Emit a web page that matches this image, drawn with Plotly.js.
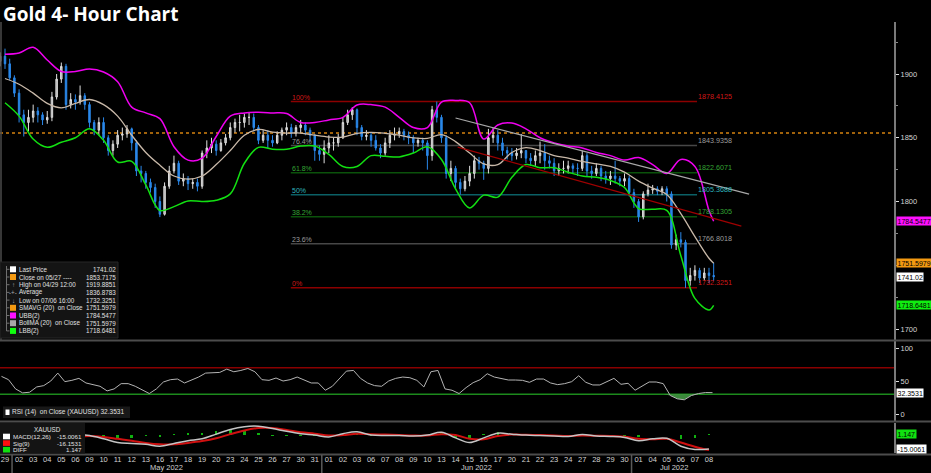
<!DOCTYPE html>
<html><head><meta charset="utf-8">
<script src="https://cdn.plot.ly/plotly-3.0.1.min.js"></script>
<style>html,body{margin:0;padding:0;background:#000;overflow:hidden}#chart{width:931px;height:473px}</style>
</head><body><div id="chart"></div>
<script>
// ---------------- DATA ----------------
const dayLabels = ['29','02','03','04','05','06','09','10','11','12','13','16','17','18','19','20','23','24','25','26','27','30','31',
  '01','02','03','06','07','08','09','10','13','14','15','16','17','20','21','22','23','24','27','28','29','30',
  '01','04','05','06','07','08'];
const monthNames = ['May 2022','Jun 2022','Jul 2022'];
const monthFirstDay = [1, 23, 45];
const monthLastDay = [22, 44, 50];

// 4-hour bars (3 per trading day shown)
const openP = [
 1910,1914,1908, 1897,1885,1868, 1862,1866,1871, 1868,1864,1866, 1882,1896,1906, 1876,1880,1878,
 1883,1876,1862, 1856,1862,1850, 1840,1845,1852, 1853,1857,1846, 1824,1822,1815, 1811,1800,1790,
 1812,1824,1830, 1816,1818,1814, 1815,1812,1838, 1842,1845,1840, 1846,1850,1858, 1862,1862,1866,
 1866,1858,1848, 1852,1848,1846, 1852,1856,1858, 1853.7,1858,1860, 1856,1852,1840, 1837,1842,1846,
 1846,1850,1862, 1868,1872,1858, 1851,1852,1848, 1842,1838,1846, 1852,1853,1855, 1852,1850,1846,
 1848,1846,1836, 1872,1866,1850, 1822,1826,1815, 1810,1816,1822, 1832,1830,1826, 1850,1852,1846,
 1840,1838,1836, 1838,1840,1834, 1832,1836,1838, 1832,1830,1824, 1826,1826,1828, 1826,1826,1836,
 1824,1822,1826, 1820,1818,1820, 1818,1816,1818, 1807,1800,1788, 1806,1809,1810, 1808,1810,1806,
 1766,1770,1768, 1738,1742,1746, 1740,1744,1742];
const highP = [
 1917,1919.9,1912, 1899,1888,1872, 1872,1876,1874, 1870,1871,1886, 1900,1909,1908, 1885,1884,1891,
 1885,1878,1864, 1866,1866,1852, 1848,1856,1858, 1860,1858,1848, 1828,1824,1818, 1814,1804,1815,
 1828,1836,1832, 1822,1820,1818, 1818,1840,1848, 1850,1848,1849, 1853,1862,1865, 1868,1869,1870,
 1869,1860,1856, 1856,1852,1855, 1858,1862,1861, 1860,1864,1862, 1858,1853,1844, 1848,1852,1850,
 1853,1866,1872, 1874,1873,1860, 1856,1854,1852, 1845,1850,1856, 1858,1858,1857, 1855,1852,1850,
 1850,1848,1875, 1878.4,1868,1852, 1832,1828,1818, 1820,1828,1836, 1835,1832,1857, 1858,1856,1850,
 1843,1842,1842, 1853,1840,1838, 1840,1847,1845, 1836,1834,1830, 1832,1832,1830, 1830,1840,1838,
 1828,1830,1828, 1824,1824,1832, 1820,1822,1820, 1810,1802,1808, 1814,1813,1812, 1812,1812,1808,
 1774,1776,1770, 1748,1750,1748, 1748,1748,1752];
const lowP = [
 1906,1904,1895, 1882,1862,1851, 1855,1862,1862, 1860,1861,1863, 1880,1893,1872, 1873,1872,1876,
 1872,1858,1852, 1852,1846,1836, 1836,1842,1848, 1850,1840,1820, 1815,1810,1807, 1795,1787.8,1789,
 1810,1822,1813, 1812,1809,1810, 1808,1810,1834, 1838,1836,1839, 1844,1848,1854, 1855,1858,1860,
 1855,1845,1846, 1842,1843,1845, 1848,1852,1850, 1851,1854,1852, 1847,1832,1832, 1830,1838,1840,
 1843,1849,1860, 1864,1852,1848, 1848,1843,1840, 1834,1836,1842, 1848,1850,1848, 1845,1838,1843,
 1840,1825,1832, 1862,1846,1818, 1816,1810,1805.4, 1808,1812,1818, 1825,1817,1822, 1846,1840,1836,
 1833,1832,1833, 1834,1830,1828, 1828,1830,1825, 1826,1820,1820, 1822,1822,1822, 1820,1824,1820,
 1818,1820,1816, 1814,1813,1814, 1812,1812,1804, 1795,1784,1786, 1804,1806,1805, 1805,1800,1763,
 1762,1764,1732.3, 1734,1738,1736, 1738,1736,1738];
const closeP = [
 1914,1908,1897, 1885,1868,1862, 1866,1871,1868, 1864,1866,1882, 1896,1906,1876, 1880,1878,1883,
 1876,1862,1856, 1862,1850,1840, 1845,1852,1853, 1857,1846,1824, 1822,1815,1811, 1800,1790,1812,
 1824,1830,1816, 1818,1814,1815, 1812,1838,1842, 1845,1840,1846, 1850,1858,1862, 1862,1866,1866,
 1858,1848,1852, 1848,1846,1852, 1856,1858,1853.7, 1858,1860,1856, 1852,1840,1837, 1842,1846,1846,
 1850,1862,1868, 1872,1858,1851, 1852,1848,1842, 1838,1846,1852, 1853,1855,1852, 1850,1846,1848,
 1846,1836,1872, 1866,1850,1822, 1826,1815,1810, 1816,1822,1832, 1830,1826,1850, 1852,1846,1840,
 1838,1836,1838, 1840,1834,1832, 1836,1838,1832, 1830,1824,1826, 1826,1828,1826, 1826,1836,1824,
 1822,1826,1820, 1818,1820,1818, 1816,1818,1807, 1800,1788,1806, 1809,1810,1808, 1810,1806,1766,
 1770,1768,1738, 1742,1746,1740, 1744,1742,1741.02];

// Bollinger bands, one value per day + the value at the last bar
const ubb = [1915.5,1916.5,1921,1911,1902,1902,1904,1901.6,1894,1874,
 1869.5,1865,1843,1832.5,1834,1851,1867,1869.5,1870,1869.5,
 1869,1862,1862,1864,1866,1875.7,1876,1874,1866,1858,
 1858,1878,1879.3,1877.5,1849,1860,1861.5,1857,1850,1846,
 1843.5,1842,1838.5,1836,1832.5,1834.5,1829,1822,1833,1827.5,
 1793,1784.5477];
const bollMA = [1896.5,1892,1885,1877,1873.5,1877,1880,1876,1867,1852,
 1838.5,1828.5,1820,1817.6,1820,1829,1840,1852,1856.5,1854.5,
 1853.7,1853.7,1852,1850.6,1850.5,1853.5,1854.3,1853.5,1852,1850,
 1849.5,1852.5,1847,1838,1829.5,1829,1838.5,1842.3,1840,1836,
 1834,1831.5,1829.5,1827.5,1823,1816,1810.5,1805.5,1790.5,1772.5,
 1755.5,1751.5979];
const lbb = [1877.5,1867,1849,1842.5,1846.5,1850,1857,1848,1831,1831.5,
 1813,1793,1796,1800.5,1800,1801,1806,1830,1842.5,1841,
 1841,1843.5,1843.5,1837,1827.5,1827.5,1836,1835.5,1835,1838,
 1843,1833,1810,1795,1805,1803.5,1819,1829,1826.5,1826.5,
 1823,1820,1819,1816.5,1811,1794.5,1794,1793,1757.5,1724,
 1715,1718.6481];

// RSI (14), two readings per day
const rsi = [57,52,38,32,33,41,43,50,62,49, 51,54,47,44,42,35,38,46,46,42,
 36,31,38,48.5,52,53,47,51,56,62, 62,63,68,64,66,69,64,52,51,54.5,
 50,52,56,51,47,47,36,42,54,65, 66,54,47,43,42,50,54,56,55,51,
 41,64,66,38,36,31,40,47.5,52,61, 56,54,51.5,51.5,51,48,53,53,47,44.5,
 46,49,58,48,44,44,49,54,45,46.5, 36,42,48.5,48.5,46,28,23,21.5,28,31,
 32.5,32.3531];
const rsiLevels = [70, 30];

// MACD (12,26), signal (9), diff — one reading per day
const macd = [-5,-7,-6,-3,0,1,-0.5,-4,-8,-9, -10,-12,-9,-6,-4,1,6,9,9.5,7,
 4,1.5,0,-2,1.5,3.5,0,-0.5,-0.5,-1, 0,3,-3,-8,-3,2,1,0,-0.5,-1,
 -1.5,0.5,-1,-1.5,-2.5,-6,-4,-3.5,-12,-15.5, -15.0061];
const sig = [-6,-6.5,-6.5,-5.5,-3.5,-2,-1,-2,-4,-6, -8.5,-10,-10,-8.5,-6.5,-3.5,1,5,7.5,7.5,
 5.5,3,1.5,-0.5,0,1.5,1,0.5,0,-0.5, -0.5,1,0,-4,-4.5,-1,0.5,0.3,0,-0.5,
 -1,-0.5,-0.7,-1,-1.8,-4,-4.5,-4,-8,-12.5, -16.1531];
const diffV = [1,-0.5,0.5,2.5,3.5,3,0.5,-2,-4,-3, -1.5,-2,1,2.5,2.5,4.5,5,4,2,-0.5,
 -1.5,-1.5,-1.5,-1.5,1.5,2,-1,-1,-0.5,-0.5, 0.5,2,-3,-4,1.5,3,0.5,-0.3,-0.5,-0.5,
 -0.5,1,-0.3,-0.5,-0.7,-2,0.5,0.5,-4,-3, 1.147];

// Fibonacci retracement levels
const fibPct = ['100%','76.4%','61.8%','50%','38.2%','23.6%','0%'];
const fibVal = [1878.4125,1843.9358,1822.6071,1805.3688,1788.1305,1766.8018,1732.3251];
const fibLabel = ['1878.4125','1843.9358','1822.6071','1805.3688','1788.1305','1766.8018','1732.3251'];
const fibFromDay = 20.3, fibToDay = 49.15;

// Trend lines [startDay, endDay] / [startPrice, endPrice]
const trendDays = [[32.0, 52.85],[32.15, 52.3]];
const trendPrices = [[1865.5, 1805.8],[1842.7, 1780.7]];

const closeRef = 1853.7175;

// Legend
const legendLabels = ['Last Price','Close on 05/27 ----','High on 04/29 12:00','Average','Low on 07/06 16:00',
  'SMAVG (20)\u00a0\u00a0on Close','UBB(2)','BollMA (20)\u00a0\u00a0on Close','LBB(2)'];
const legendValues = ['1741.02','1853.7175','1919.8851','1836.8783','1732.3251','1751.5979','1784.5477','1751.5979','1718.6481'];
const lastPrice = 1741.02, smavgLast = 1751.5979, ubbLast = 1784.5477, lbbLast = 1718.6481;
const rsiLast = '32.3531';
const macdLabels = ['MACD(12,26)','Sig(9)','DIFF'];
const macdValues = ['-15.0061','-16.1531','1.147'];

// ---------------- STYLE / GEOMETRY ----------------
const W=931,H=473,MR=37,MT=22,MB=18;
const PW=W-MR, PH=H-MT-MB;
const fx = p => p/PW;
const fy = p => (H-MB-p)/PH;
const FONT = 'Liberation Sans, Arial, sans-serif';
const fibLineColor = ['#8c0000','#474747','#0b520b','#0b6066','#0b520b','#474747','#8c0000'];
const fibTextColor = ['#d01818','#9c9c9c','#34a534','#2fb5bd','#34a534','#9c9c9c','#d01818'];
const legendIcon = ['sq','sq','\u2191','-+-','\u2193','sq','sq','sq','sq'];
const legendColor = ['#ffffff','#f39a12','#aaaaaa','#aaaaaa','#aaaaaa','#f39a12','#ff10ff','#a8a8a8','#10ff10'];

const nDays = dayLabels.length;
const barX = closeP.map((_,i)=> Math.floor(i/3) + ((i%3)-1)/3);
const lastBarX = barX[barX.length-1];
const bandX = ubb.map((_,i)=> i < nDays ? i : lastBarX);
const rsiX = rsi.map((_,k)=> k/2 - 0.25);
const dayX = macd.map((_,i)=> i);

const traces = [
 {type:'candlestick', x:barX, open:openP, high:highP, low:lowP, close:closeP, xaxis:'x', yaxis:'y',
  increasing:{line:{color:'#dedede',width:1}, fillcolor:'#a8a8a8'},
  decreasing:{line:{color:'#2a88ea',width:1}, fillcolor:'#2a88ea'},
  whiskerwidth:0, hoverinfo:'skip'},
 {type:'scatter', mode:'lines', x:bandX, y:bollMA, line:{color:'#c9b9a9',width:1.3,shape:'spline'}, hoverinfo:'skip'},
 {type:'scatter', mode:'lines', x:bandX, y:ubb, line:{color:'#f000f0',width:1.5,shape:'spline'}, hoverinfo:'skip'},
 {type:'scatter', mode:'lines', x:bandX, y:lbb, line:{color:'#12e012',width:1.5,shape:'spline'}, hoverinfo:'skip'},
 // RSI oversold fill
 {type:'scatter', mode:'lines', x:rsiX, y:rsi.map(()=>rsiLevels[1]), yaxis:'y2', line:{width:0}, hoverinfo:'skip'},
 {type:'scatter', mode:'lines', x:rsiX, y:rsi.map(v=>Math.min(v,rsiLevels[1])), yaxis:'y2', line:{width:0},
  fill:'tonexty', fillcolor:'rgba(70,160,70,0.85)', hoverinfo:'skip'},
 {type:'scatter', mode:'lines', x:rsiX, y:rsi, yaxis:'y2', line:{color:'#b4b4b4',width:1}, hoverinfo:'skip'},
 // MACD
 {type:'bar', x:dayX, y:diffV, yaxis:'y3', width:0.18, marker:{color:'#10b010',line:{width:0}}, hoverinfo:'skip'},
 {type:'scatter', mode:'lines', x:dayX, y:sig, yaxis:'y3', line:{color:'#d01010',width:2,shape:'spline'}, hoverinfo:'skip'},
 {type:'scatter', mode:'lines', x:dayX, y:macd, yaxis:'y3', line:{color:'#c4c4c4',width:1.5,shape:'spline'}, hoverinfo:'skip'}
];

const shapes = [];
const ann = [];
const gray = '#d0d0d0';

// orange close reference line
shapes.push({type:'line', xref:'paper', x0:0, x1:1, yref:'y', y0:closeRef, y1:closeRef, layer:'below',
  line:{color:'#d5830f', width:1.5, dash:'dot'}});
// fib levels
fibVal.forEach((v,i)=>{
  shapes.push({type:'line', xref:'x', x0:fibFromDay, x1:fibToDay, yref:'y', y0:v, y1:v, layer:'below',
    line:{color:fibLineColor[i], width:1.5}});
  ann.push({xref:'x', x:fibFromDay, yref:'y', y:v, xanchor:'left', yanchor:'bottom', showarrow:false,
    text:fibPct[i], font:{family:FONT,size:7,color:fibTextColor[i]}, borderpad:0});
  ann.push({xref:'x', x:fibToDay, yref:'y', y:v, xanchor:'left', yanchor:'bottom', showarrow:false,
    text:fibLabel[i], font:{family:FONT,size:7.2,color:fibTextColor[i]}, borderpad:0});
});
// trend lines
const trendColor = ['#a8a8a8','#a00000'];
trendDays.forEach((d,i)=>{
  shapes.push({type:'line', xref:'x', yref:'y', x0:d[0], x1:d[1], y0:trendPrices[i][0], y1:trendPrices[i][1],
    layer:'above', line:{color:trendColor[i], width:1.2}});
});
// RSI levels
rsiLevels.forEach((v,i)=>{
  shapes.push({type:'line', xref:'paper', x0:0, x1:1, yref:'y2', y0:v, y1:v, layer:'below',
    line:{color: i===0 ? '#8a0000' : '#1c8a1c', width:1.5}});
});
// panel separators
[340.5, 421.5, 454.5].forEach(p=>{
  shapes.push({type:'line', xref:'paper', yref:'paper', x0:0, x1:W/PW, y0:fy(p), y1:fy(p),
    line:{color:'#4c4c4c', width:2}});
});
// left border of main panel
shapes.push({type:'line', xref:'paper', yref:'paper', x0:fx(1), x1:fx(1), y0:fy(22), y1:fy(340),
  line:{color:'#4a4a4a', width:1.5}});
// month separators in date axis
[0.5, 22.5, 44.5].forEach(d=>{
  shapes.push({type:'line', xref:'x', yref:'paper', x0:d, x1:d, y0:fy(455), y1:fy(473),
    line:{color:'#5a5a5a', width:1.5}});
});
// month labels
monthNames.forEach((m,i)=>{
  ann.push({xref:'x', x:(monthFirstDay[i]+monthLastDay[i])/2, yref:'paper', y:fy(468), showarrow:false,
    text:m, font:{family:FONT,size:7.5,color:gray}, xanchor:'center', yanchor:'middle'});
});

// title
ann.push({xref:'paper', yref:'paper', x:fx(1), y:fy(-1), xanchor:'left', yanchor:'top', showarrow:false,
  text:'<b>Gold 4- Hour Chart</b>', font:{family:'Open Sans, DejaVu Sans, sans-serif', size:19, color:'#ffffff'}});

// price tags on right axis
function tag(yref, y, text, bg){
  ann.push({xref:'paper', x:1, xanchor:'left', xshift:2, yref:yref, y:y, yanchor:'middle', showarrow:false,
    text:text, bgcolor:bg, borderpad:0.5, font:{family:FONT,size:7,color:'#000'}});
}
tag('y', ubbLast, legendValues[6], '#ff10ff');
tag('y', smavgLast, legendValues[5], '#f39a12');
tag('y', lastPrice, legendValues[0], '#ffffff');
tag('y', lbbLast, legendValues[8], '#10ee10');
tag('y2', parseFloat(rsiLast), rsiLast, '#ffffff');
tag('y3', parseFloat(macdValues[2]), macdValues[2], '#10e010');
tag('y3', parseFloat(macdValues[0]), macdValues[0], '#ffffff');

// main legend box
shapes.push({type:'rect', xref:'paper', yref:'paper', x0:fx(0), x1:fx(118), y0:fy(338), y1:fy(262),
  fillcolor:'#141414', line:{color:'#262626', width:1}, layer:'above'});
shapes.push({type:'line', xref:'paper', yref:'paper', x0:fx(6.5), x1:fx(6.5), y0:fy(331), y1:fy(266),
  line:{color:'#707070', width:1}, layer:'above'});
legendLabels.forEach((lab,i)=>{
  const yy = 269.3 + 7.7*i;
  shapes.push({type:'line', xref:'paper', yref:'paper', x0:fx(6.5), x1:fx(9.5), y0:fy(yy), y1:fy(yy),
    line:{color:'#707070', width:1}, layer:'above'});
  if (legendIcon[i]==='sq'){
    shapes.push({type:'rect', xref:'paper', yref:'paper', x0:fx(10), x1:fx(16), y0:fy(yy+3), y1:fy(yy-3),
      fillcolor:legendColor[i], line:{width:0}, layer:'above'});
  } else {
    ann.push({xref:'paper', yref:'paper', x:fx(13), y:fy(yy), xanchor:'center', yanchor:'middle', showarrow:false,
      text:legendIcon[i], font:{family:FONT,size:6.3,color:legendColor[i]}, borderpad:0});
  }
  ann.push({xref:'paper', yref:'paper', x:fx(17.5), y:fy(yy), xanchor:'left', yanchor:'middle', showarrow:false,
    text:lab, font:{family:FONT,size:6.3,color:'#e0e0e0'}, borderpad:0});
  ann.push({xref:'paper', yref:'paper', x:fx(117), y:fy(yy), xanchor:'right', yanchor:'middle', showarrow:false,
    text:legendValues[i], font:{family:FONT,size:6.3,color:'#e0e0e0'}, borderpad:0});
});

// RSI legend
shapes.push({type:'rect', xref:'paper', yref:'paper', x0:fx(3), x1:fx(130), y0:fy(418), y1:fy(406.5),
  fillcolor:'#181818', line:{width:0}, layer:'above'});
shapes.push({type:'rect', xref:'paper', yref:'paper', x0:fx(5.5), x1:fx(9.5), y0:fy(415), y1:fy(409.5),
  fillcolor:'#ffffff', line:{width:0}, layer:'above'});
ann.push({xref:'paper', yref:'paper', x:fx(11), y:fy(412.3), xanchor:'left', yanchor:'middle', showarrow:false,
  text:'RSI (14)\u00a0\u00a0on Close (XAUUSD) ' + rsiLast, font:{family:FONT,size:6.5,color:'#e0e0e0'}, borderpad:0});

// MACD legend
shapes.push({type:'rect', xref:'paper', yref:'paper', x0:fx(0), x1:fx(85), y0:fy(453.5), y1:fy(423),
  fillcolor:'#141414', line:{width:0}, layer:'above'});
ann.push({xref:'paper', yref:'paper', x:fx(33), y:fy(429), xanchor:'left', yanchor:'middle', showarrow:false,
  text:'XAUUSD', font:{family:FONT,size:6.3,color:'#e0e0e0'}, borderpad:0});
const macdIconColor = ['#ffffff','#ff1010','#10e010'];
macdLabels.forEach((lab,i)=>{
  const yy = 436.5 + 6.6*i;
  shapes.push({type:'rect', xref:'paper', yref:'paper', x0:fx(3), x1:fx(10), y0:fy(yy+2.8), y1:fy(yy-2.8),
    fillcolor:macdIconColor[i], line:{width:0}, layer:'above'});
  ann.push({xref:'paper', yref:'paper', x:fx(11.5), y:fy(yy), xanchor:'left', yanchor:'middle', showarrow:false,
    text:lab, font:{family:FONT,size:6.2,color:'#e0e0e0'}, borderpad:0});
  ann.push({xref:'paper', yref:'paper', x:fx(83), y:fy(yy), xanchor:'right', yanchor:'middle', showarrow:false,
    text:macdValues[i], font:{family:FONT,size:6.2,color:'#e0e0e0'}, borderpad:0});
});

const axisFont = {family:FONT, size:7.5, color:'#d4d4d4'};
const layout = {
  width:W, height:H,
  margin:{l:0, r:MR, t:MT, b:MB, pad:0},
  paper_bgcolor:'#000', plot_bgcolor:'#000',
  showlegend:false, bargap:0, boxgap:0.55,
  font:{family:FONT, size:7.5, color:'#d4d4d4'},
  xaxis:{domain:[0,1], range:[-0.355, 63.14], anchor:'y3', tickmode:'array',
    tickvals:dayLabels.map((_,i)=>i), ticktext:dayLabels, tickfont:axisFont, ticks:'', ticklen:0,
    showgrid:false, zeroline:false, showline:false, rangeslider:{visible:false}, fixedrange:true},
  yaxis:{domain:[fy(340),1], range:[1691.4,1940.8], side:'right', anchor:'x',
    tickmode:'array', tickvals:[1700,1800,1850,1900], ticks:'outside', ticklen:3, tickcolor:'#e0e0e0',
    tickfont:axisFont, showgrid:false, zeroline:false, showline:true, linecolor:'#7a7a7a', linewidth:2,
    minor:{tickvals:[1725,1750,1775,1825,1875,1925], ticks:'outside', ticklen:2, tickcolor:'#8a8a8a'}},
  yaxis2:{domain:[fy(421),fy(341)], range:[-10.6,110.6], side:'right', anchor:'x',
    tickmode:'array', tickvals:[0,50,100], ticks:'outside', ticklen:3, tickcolor:'#e0e0e0',
    tickfont:axisFont, showgrid:false, zeroline:false, showline:true, linecolor:'#7a7a7a', linewidth:2},
  yaxis3:{domain:[fy(453),fy(423)], range:[-19.3,13], side:'right', anchor:'x',
    showticklabels:false, ticks:'', showgrid:false, zeroline:false, showline:true, linecolor:'#7a7a7a', linewidth:2},
  shapes:shapes, annotations:ann
};
Plotly.newPlot('chart', traces, layout, {staticPlot:true, displayModeBar:false});
</script>
</body></html>
